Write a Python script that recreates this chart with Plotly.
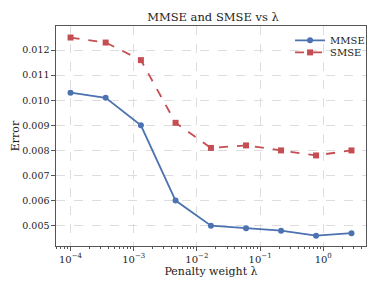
import plotly.graph_objects as go

lam = [1e-4, 3.6e-4, 1.3e-3, 4.6e-3, 1.67e-2, 6.0e-2, 0.215, 0.77, 2.8]
mmse = [0.0103, 0.0101, 0.0090, 0.0060, 0.0050, 0.0049, 0.0048, 0.0046, 0.0047]
smse = [0.0125, 0.0123, 0.0116, 0.0091, 0.0081, 0.0082, 0.0080, 0.0078, 0.0080]
yticks = [0.005, 0.006, 0.007, 0.008, 0.009, 0.010, 0.011, 0.012]
xticks = [1e-4, 1e-3, 1e-2, 1e-1, 1e0]
xticklabels = ["10<sup>−4</sup>", "10<sup>−3</sup>", "10<sup>−2</sup>", "10<sup>−1</sup>", "10<sup>0</sup>"]

font = "DejaVu Serif"
fig = go.Figure()
fig.add_trace(go.Scatter(x=lam, y=mmse, name="MMSE", mode="lines+markers", legend="legend",
                         line=dict(color="#4C72B0", width=1.8),
                         marker=dict(symbol="circle", size=6, color="#4C72B0")))
fig.add_trace(go.Scatter(x=lam, y=smse, name="SMSE", mode="lines+markers", legend="legend2",
                         line=dict(color="#C44E52", width=1.8, dash="dash"),
                         marker=dict(symbol="square", size=6, color="#C44E52")))

leg = dict(xanchor="left", yanchor="middle", bgcolor="rgba(255,255,255,0)",
           font=dict(family=font, size=10, color="#222"), itemwidth=30)
fig.update_layout(
    width=381, height=285,
    margin=dict(l=56, r=11, t=26, b=39),
    paper_bgcolor="white", plot_bgcolor="white",
    font=dict(family=font, size=10, color="#222"),
    title=dict(text="MMSE and SMSE vs λ", x=0.559, xanchor="center", y=0.955, yanchor="top",
               font=dict(family=font, size=11.5, color="#222")),
    showlegend=True,
    legend=dict(x=0.755, y=0.935, **leg),
    legend2=dict(x=0.755, y=0.88, **leg),
)
fig.update_xaxes(type="log", range=[-4.23, 0.677], automargin=False,
                 tickvals=xticks, ticktext=xticklabels,
                 showgrid=True, gridcolor="#ddd", griddash="dash", gridwidth=0.8,
                 showline=True, linecolor="#555", linewidth=1.2, mirror=True,
                 ticks="outside", ticklen=3.5, tickcolor="#555",
                 minor=dict(ticks="outside", ticklen=2, tickcolor="#555", showgrid=False,
                            tickvals=[m * 10**e for e in range(-5, 1) for m in range(2, 10)]),
                 title=dict(text="Penalty weight λ", font=dict(family=font, size=11), standoff=0),
                 tickfont=dict(family=font, size=10), zeroline=False)
fig.update_yaxes(range=[0.00419, 0.01296], tickvals=yticks, automargin=False,
                 ticktext=[f"{v:.3f}" for v in yticks],
                 showgrid=True, gridcolor="#ddd", griddash="dash", gridwidth=0.8,
                 showline=True, linecolor="#555", linewidth=1.2, mirror=True,
                 ticks="outside", ticklen=3.5, tickcolor="#555",
                 title=dict(text="Error", font=dict(family=font, size=11), standoff=0),
                 tickfont=dict(family=font, size=9.5), zeroline=False)

fig.write_html("out.html", config={"displayModeBar": False},
               post_script="document.body.style.margin='0';")
